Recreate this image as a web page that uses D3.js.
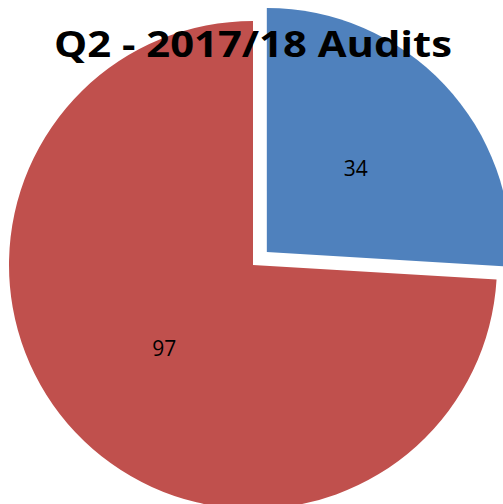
<!DOCTYPE html>
<html>
<head>
<meta charset="utf-8">
<script src="https://cdn.jsdelivr.net/npm/d3@7"></script>
<style>
  html, body { margin: 0; padding: 0; background: #fff; }
  svg { display: block; }
</style>
</head>
<body>
<svg id="chart" width="503" height="504"></svg>
<script>
// Audit counts for the quarter
const categories = ["Blue", "Red"];
const values = [34, 97];
const colors = ["#4F81BD", "#C0504D"];
const title = "Q2 - 2017/18 Audits";

const width = 503, height = 504;
const cx = 253, cy = 265, radius = 244;
const explode = [19, 0];   // slice pull-out distance

const svg = d3.select("#chart");

const pie = d3.pie().sort(null).value(d => d.value);
const arcs = pie(categories.map((c, i) => ({ cat: c, value: values[i], color: colors[i], off: explode[i] })));

const arc = d3.arc().innerRadius(0).outerRadius(radius);
const labelArc = d3.arc().innerRadius(radius * 0.5).outerRadius(radius * 0.5);

const g = svg.append("g").attr("transform", `translate(${cx},${cy})`);

const slices = g.selectAll("g.slice").data(arcs).join("g")
  .attr("class", "slice")
  .attr("transform", d => {
    const mid = (d.startAngle + d.endAngle) / 2;
    return `translate(${Math.sin(mid) * d.data.off},${-Math.cos(mid) * d.data.off})`;
  });

slices.append("path")
  .attr("d", arc)
  .attr("fill", d => d.data.color);

slices.append("text")
  .attr("transform", d => `translate(${labelArc.centroid(d)})`)
  .attr("text-anchor", "middle")
  .attr("dy", "0.35em")
  .attr("font-family", "'Open Sans', sans-serif")
  .attr("font-size", 21)
  .attr("fill", "#000")
  .text(d => d.data.value);

svg.append("text")
  .attr("x", 253)
  .attr("y", 57)
  .attr("text-anchor", "middle")
  .attr("font-family", "'Open Sans', sans-serif")
  .attr("font-weight", "bold")
  .attr("font-size", 36)
  .attr("textLength", 398)
  .attr("lengthAdjust", "spacingAndGlyphs")
  .attr("fill", "#000")
  .text(title);
</script>
</body>
</html>
